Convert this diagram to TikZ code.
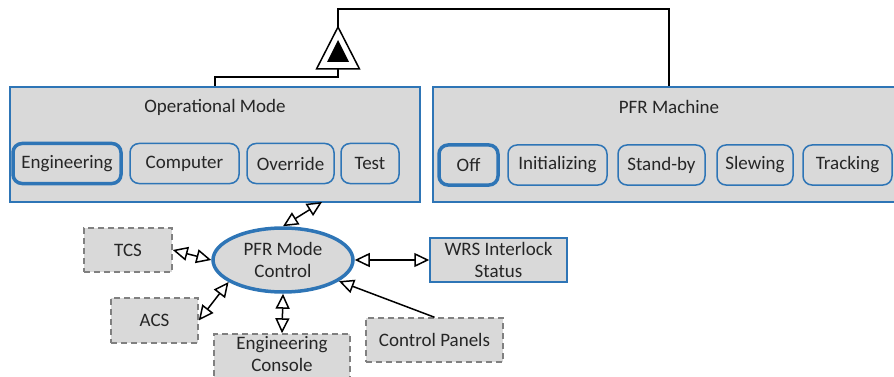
\documentclass[tikz,border=0pt]{standalone}
\usepackage{fontspec}
\setmainfont{Carlito}
\usetikzlibrary{arrows.meta,shapes.geometric}
\definecolor{pfrblue}{RGB}{46,117,182}
\definecolor{pfrgray}{RGB}{217,217,217}
\definecolor{pfrdash}{RGB}{128,128,128}
\definecolor{pfrtext}{RGB}{38,38,38}

\begin{document}
\begin{tikzpicture}[x=1pt,y=-1pt,
    font=\fontsize{19}{22}\selectfont, text=pfrtext,
    modebox/.style={draw=pfrblue,line width=1.5pt,fill=pfrgray,inner sep=0pt},
    statebox/.style={draw=pfrblue,line width=1.5pt,rounded corners=9pt,minimum height=40pt,inner sep=0pt},
    curstate/.style={statebox,line width=3.5pt},
    extbox/.style={draw=pfrdash,dashed,dash pattern=on 6pt off 4pt,line width=1.5pt,fill=pfrgray,align=center,inner sep=0pt},
    linkarrow/.style={line width=1.5pt,{Triangle[open,length=15pt,width=14pt]}-{Triangle[open,length=15pt,width=14pt]}}]
        \useasboundingbox (0,0) rectangle (894,377);
        % generalization symbol
        \coordinate (genapex) at (338,27);
        \coordinate (genbase) at (338,69);
        \draw[line width=1.5pt,fill=white] (genapex) -- (316.5,69) -- (359.5,69) -- cycle;
        \fill (338,40) -- (327,62) -- (349,62) -- cycle;
        % operational mode
        \node[modebox,minimum width=410pt,minimum height=115pt] (opmode) at (215,144.5) {};
        \node (opmodetitle) at (215,107) {Operational Mode};
        \node[curstate,minimum width=108pt] (engmode) at (67,163.5) {Engineering};
        \node[statebox,minimum width=109pt] (compmode) at (184.5,163.5) {Computer};
        \node[statebox,minimum width=87pt] (overmode) at (290.5,163.5) {Override};
        \node[statebox,minimum width=58pt] (testmode) at (370,163.5) {Test};
        % pfr machine
        \node[modebox,minimum width=472pt,minimum height=115pt] (pfr) at (669,144.5) {};
        \node (pfrtitle) at (669,107) {PFR Machine};
        \node[curstate,minimum width=59pt] (offstate) at (468.5,165) {Off};
        \node[statebox,minimum width=99pt] (initstate) at (557.5,165) {Initializing};
        \node[statebox,minimum width=87pt] (standstate) at (661.5,165) {Stand-by};
        \node[statebox,minimum width=76pt] (slewstate) at (755,165) {Slewing};
        \node[statebox,minimum width=89pt] (trackstate) at (847.5,165) {Tracking};
        \draw[line width=1.5pt] (genbase) -- ++(0,8) -| (opmode.north);
        \draw[line width=1.5pt] (genapex) -- ++(0,-18) -| (pfr.north);
        % mode control
        \node[draw=pfrblue,line width=3.5pt,fill=pfrgray,ellipse,minimum width=140pt,minimum height=64pt,inner sep=0pt,align=center] (ctrl) at (283,260) {PFR Mode\\Control};
        \node[extbox,minimum width=88pt,minimum height=44pt] (tcs) at (128,250) {TCS};
        \node[extbox,minimum width=87pt,minimum height=45pt] (acs) at (154.5,320.5) {ACS};
        \node[extbox,minimum width=136pt,minimum height=52pt,text depth=13pt] (engcons) at (282,360) {Engineering\\Console};
        \node[modebox,minimum width=137pt,minimum height=44pt,align=center] (wrs) at (498.5,260) {WRS Interlock\\Status};
        \node[extbox,minimum width=137pt,minimum height=44pt] (panels) at (434.5,340) {Control Panels};
        \coordinate (opmodeport) at (322,202);
        \draw[linkarrow] (ctrl.north) -- (opmodeport);
        \draw[linkarrow] (tcs.east) -- (ctrl.west);
        \draw[linkarrow] (acs.east) -- (ctrl.202);
        \draw[linkarrow] (ctrl.south) -- (engcons.north);
        \draw[linkarrow] (ctrl.east) -- (wrs.west);
        \draw[line width=1.5pt,-{Triangle[open,length=15pt,width=14pt]}] (panels.north) -- (ctrl);
    \end{tikzpicture}
\end{document}
